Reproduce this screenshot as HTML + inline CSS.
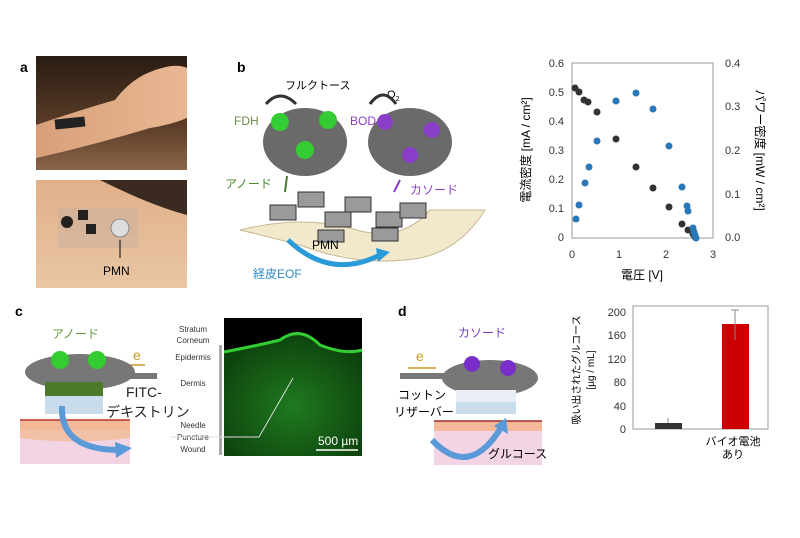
<!DOCTYPE html><html><head><meta charset="utf-8"><style>
body{margin:0;background:#fff}
svg text{font-family:"Liberation Sans","Noto Sans CJK JP",sans-serif}
</style></head><body>
<svg width="800" height="533" viewBox="0 0 800 533" xmlns="http://www.w3.org/2000/svg">
<defs>
<linearGradient id="ph1" x1="0" y1="0" x2="0" y2="1"><stop offset="0" stop-color="#2a1c12"/><stop offset="0.6" stop-color="#5a3c28"/><stop offset="1" stop-color="#8a6448"/></linearGradient>
<linearGradient id="sk" x1="0" y1="0" x2="1" y2="0"><stop offset="0" stop-color="#d8a07a"/><stop offset="1" stop-color="#e8b892"/></linearGradient>
<linearGradient id="ph2" x1="0" y1="0" x2="0" y2="1"><stop offset="0" stop-color="#e0b08a"/><stop offset="1" stop-color="#eac6a4"/></linearGradient>
<radialGradient id="gm" cx="0.5" cy="0.6" r="0.7"><stop offset="0" stop-color="#1f7a1f"/><stop offset="1" stop-color="#0b3a0b"/></radialGradient>
</defs>
<!-- panel a -->
<text x="20" y="72" font-size="14" font-weight="bold">a</text>
<rect x="36" y="56" width="151" height="114" fill="url(#ph1)"/>
<path d="M36 125 Q80 110 115 100 Q130 80 150 72 Q175 62 187 68 L187 118 Q170 125 150 128 Q110 140 70 150 Q50 155 36 158Z" fill="url(#sk)"/>
<rect x="55" y="118" width="30" height="10" fill="#222" transform="rotate(-6 70 123)"/>
<rect x="36" y="180" width="151" height="108" fill="url(#ph2)"/>
<path d="M100 180 L187 180 L187 215 Q150 205 100 180Z" fill="#3a2a20"/>
<rect x="58" y="208" width="80" height="40" fill="#c8b0a0" opacity="0.5"/>
<circle cx="67" cy="222" r="6" fill="#222"/><rect x="78" y="210" width="10" height="10" fill="#222"/><rect x="86" y="224" width="10" height="10" fill="#222"/>
<circle cx="120" cy="228" r="9" fill="#ddd" stroke="#888"/>
<line x1="120" y1="258" x2="120" y2="240" stroke="#000"/>
<text x="103" y="275" font-size="12">PMN</text>
<!-- panel b -->
<text x="237" y="72" font-size="14" font-weight="bold">b</text>
<text x="285" y="89" font-size="11">フルクトース</text>
<text x="387" y="98" font-size="11">O<tspan font-size="7" dy="3">2</tspan></text>
<path d="M266 104 Q280 88 296 104" fill="none" stroke="#333" stroke-width="3"/>
<path d="M370 104 Q383 86 396 104" fill="none" stroke="#333" stroke-width="3"/>
<ellipse cx="305" cy="142" rx="42" ry="34" fill="#6a6a6a"/>
<ellipse cx="410" cy="142" rx="42" ry="34" fill="#6a6a6a"/>
<g fill="#3c3"><circle cx="280" cy="122" r="9"/><circle cx="328" cy="120" r="9"/><circle cx="305" cy="150" r="9"/></g>
<g fill="#8a3ec8"><circle cx="385" cy="122" r="8"/><circle cx="432" cy="130" r="8"/><circle cx="410" cy="155" r="8"/></g>
<text x="234" y="125" font-size="12" fill="#6a8a4a">FDH</text>
<text x="350" y="125" font-size="12" fill="#8a3ec8">BOD</text>
<text x="225" y="188" font-size="12" fill="#4a8a2a">アノード</text>
<text x="410" y="194" font-size="12" fill="#8a3ec8">カソード</text>
<line x1="287" y1="176" x2="285" y2="192" stroke="#4a7a2a" stroke-width="2"/>
<line x1="400" y1="180" x2="394" y2="192" stroke="#8a3ec8" stroke-width="2"/>
<path d="M240 230 Q300 215 350 228 Q400 245 430 210 L485 210 Q460 250 420 258 Q360 268 300 245 Q265 236 240 230Z" fill="#f2e8cc" stroke="#c8b890"/>
<g fill="#9a9a9a" stroke="#333"><rect x="270" y="205" width="26" height="15"/><rect x="298" y="192" width="26" height="15"/><rect x="325" y="212" width="26" height="15"/><rect x="345" y="197" width="26" height="15"/><rect x="376" y="212" width="26" height="15"/><rect x="400" y="203" width="26" height="15"/><rect x="372" y="228" width="26" height="13"/><rect x="318" y="230" width="26" height="12"/></g>
<text x="312" y="249" font-size="12">PMN</text>
<path d="M288 240 Q330 280 380 255" fill="none" stroke="#2a9ad8" stroke-width="5"/>
<polygon points="376,248 390,252 378,262" fill="#2a9ad8"/>
<text x="253" y="278" font-size="12" fill="#2a8ac8">経皮EOF</text>
<!-- IV plot -->
<rect x="572" y="63" width="141" height="175" fill="none" stroke="#999"/>
<g font-size="11" fill="#333" text-anchor="end">
<text x="564" y="67">0.6</text><text x="564" y="96">0.5</text><text x="564" y="125">0.4</text><text x="564" y="154">0.3</text><text x="564" y="183">0.2</text><text x="564" y="212">0.1</text><text x="564" y="241">0</text></g>
<g font-size="11" fill="#333"><text x="725" y="67">0.4</text><text x="725" y="110">0.3</text><text x="725" y="154">0.2</text><text x="725" y="198">0.1</text><text x="725" y="241">0.0</text></g>
<g font-size="11" fill="#333" text-anchor="middle"><text x="572" y="258">0</text><text x="619" y="258">1</text><text x="666" y="258">2</text><text x="713" y="258">3</text></g>
<text x="642" y="279" font-size="12" text-anchor="middle">電圧 [V]</text>
<text transform="translate(530 150) rotate(-90)" font-size="12" text-anchor="middle">電流密度 [mA / cm²]</text>
<text transform="translate(756 150) rotate(90)" font-size="12" text-anchor="middle">パワー密度 [mW / cm²]</text>
<g fill="#333">
<circle cx="575" cy="88" r="3.5"/><circle cx="579" cy="92" r="3.5"/><circle cx="584" cy="100" r="3.5"/><circle cx="588" cy="102" r="3.5"/><circle cx="597" cy="112" r="3.5"/><circle cx="616" cy="139" r="3.5"/><circle cx="636" cy="167" r="3.5"/><circle cx="653" cy="188" r="3.5"/><circle cx="669" cy="207" r="3.5"/><circle cx="682" cy="224" r="3.5"/><circle cx="688" cy="230" r="3.5"/><circle cx="693" cy="234" r="3.5"/><circle cx="695" cy="237" r="3.5"/></g>
<g fill="#2a78b8">
<circle cx="576" cy="219" r="3.5"/><circle cx="579" cy="205" r="3.5"/><circle cx="585" cy="183" r="3.5"/><circle cx="589" cy="167" r="3.5"/><circle cx="597" cy="141" r="3.5"/><circle cx="616" cy="101" r="3.5"/><circle cx="636" cy="93" r="3.5"/><circle cx="653" cy="109" r="3.5"/><circle cx="669" cy="146" r="3.5"/><circle cx="682" cy="187" r="3.5"/><circle cx="687" cy="206" r="3.5"/><circle cx="688" cy="211" r="3.5"/><circle cx="693" cy="228" r="3.5"/><circle cx="694" cy="232" r="3.5"/><circle cx="695" cy="235" r="3.5"/><circle cx="696" cy="238" r="3.5"/></g>
<!-- panel c -->
<text x="15" y="316" font-size="14" font-weight="bold">c</text>
<text x="52" y="338" font-size="12" fill="#5a9a3a">アノード</text>
<text x="133" y="360" font-size="14" fill="#c89a20">e</text>
<line x1="120" y1="365" x2="145" y2="365" stroke="#c89a20" stroke-width="1.5"/>
<rect x="115" y="373" width="42" height="6" fill="#777"/>
<ellipse cx="80" cy="372" rx="55" ry="18" fill="#777"/>
<g fill="#3c3"><circle cx="60" cy="360" r="9"/><circle cx="97" cy="360" r="9"/></g>
<rect x="45" y="382" width="58" height="14" fill="#4a7a2a"/>
<rect x="45" y="396" width="58" height="18" fill="#c8dcec"/>
<rect x="20" y="420" width="110" height="10" fill="#f2b898"/>
<line x1="20" y1="420" x2="130" y2="420" stroke="#c0302a" stroke-width="1.5"/>
<rect x="20" y="430" width="110" height="34" fill="#f2d4e4"/>
<path d="M20 430 L130 430 L130 438 Q75 445 20 438Z" fill="#f2c0a4"/>
<path d="M62 406 Q60 450 120 450" fill="none" stroke="#5a9ad8" stroke-width="6"/>
<polygon points="115,442 132,448 116,458" fill="#5a9ad8"/>
<text x="126" y="397" font-size="14" fill="#222">FITC-</text>
<text x="106" y="417" font-size="14" fill="#222">デキストリン</text>
<g font-size="8" fill="#333" text-anchor="middle"><text x="193" y="332">Stratum</text><text x="193" y="343">Corneum</text><text x="193" y="360">Epidermis</text><text x="193" y="386">Dermis</text><text x="193" y="428">Needle</text><text x="193" y="440">Puncture</text><text x="193" y="452">Wound</text></g>
<rect x="219" y="345" width="3" height="110" fill="#aaa"/>
<rect x="224" y="318" width="138" height="138" fill="#000"/>
<path d="M224 352 Q260 345 280 340 Q300 325 320 345 Q345 355 362 350 L362 456 L224 456Z" fill="url(#gm)"/>
<path d="M224 352 Q260 345 280 340 Q300 325 320 345 Q345 355 362 350" fill="none" stroke="#3c3" stroke-width="3"/>
<polyline points="170,437 259,437 293,378" fill="none" stroke="#ddd"/>
<text x="318" y="445" font-size="12" fill="#fff">500 µm</text>
<line x1="316" y1="450" x2="358" y2="450" stroke="#fff" stroke-width="1.5"/>
<!-- panel d -->
<text x="398" y="316" font-size="14" font-weight="bold">d</text>
<text x="458" y="337" font-size="12" fill="#7a3ec8">カソード</text>
<text x="416" y="361" font-size="14" fill="#c89a20">e</text>
<line x1="408" y1="368" x2="436" y2="368" stroke="#c89a20" stroke-width="1.5"/>
<rect x="400" y="373" width="55" height="6" fill="#777"/>
<ellipse cx="490" cy="378" rx="48" ry="18" fill="#777"/>
<g fill="#7a2ec8"><circle cx="472" cy="364" r="8"/><circle cx="508" cy="368" r="8"/></g>
<rect x="456" y="390" width="60" height="22" fill="#e8eef4"/>
<rect x="456" y="402" width="60" height="12" fill="#c8dcec"/>
<rect x="434" y="421" width="108" height="10" fill="#f2b898"/>
<line x1="434" y1="421" x2="542" y2="421" stroke="#a02a2a" stroke-width="1.5"/>
<rect x="434" y="431" width="108" height="34" fill="#f2d4e4"/>
<path d="M432 440 Q470 480 502 426" fill="none" stroke="#5a9ad8" stroke-width="6"/>
<polygon points="494,426 506,418 508,434" fill="#5a9ad8"/>
<text x="398" y="399" font-size="12">コットン</text>
<text x="394" y="416" font-size="12">リザーバー</text>
<text x="488" y="458" font-size="12">グルコース</text>
<!-- bar chart -->
<rect x="633" y="306" width="135" height="123" fill="none" stroke="#999"/>
<g font-size="11" fill="#333" text-anchor="end"><text x="626" y="316">200</text><text x="626" y="339">160</text><text x="626" y="363">120</text><text x="626" y="386">80</text><text x="626" y="410">40</text><text x="626" y="433">0</text></g>
<rect x="655" y="423" width="27" height="6" fill="#333"/>
<line x1="668" y1="418" x2="668" y2="423" stroke="#888"/>
<rect x="722" y="324" width="27" height="105" fill="#cc0000"/>
<line x1="735" y1="310" x2="735" y2="340" stroke="#888"/>
<line x1="731" y1="310" x2="739" y2="310" stroke="#888"/>
<text x="733" y="445" font-size="11" text-anchor="middle">バイオ電池</text>
<text x="733" y="458" font-size="11" text-anchor="middle">あり</text>
<text transform="translate(580 370) rotate(-90)" font-size="10" text-anchor="middle">吸い出されたグルコース</text>
<text transform="translate(594 370) rotate(-90)" font-size="10" text-anchor="middle">[µg / mL]</text>
</svg>
</body></html>
